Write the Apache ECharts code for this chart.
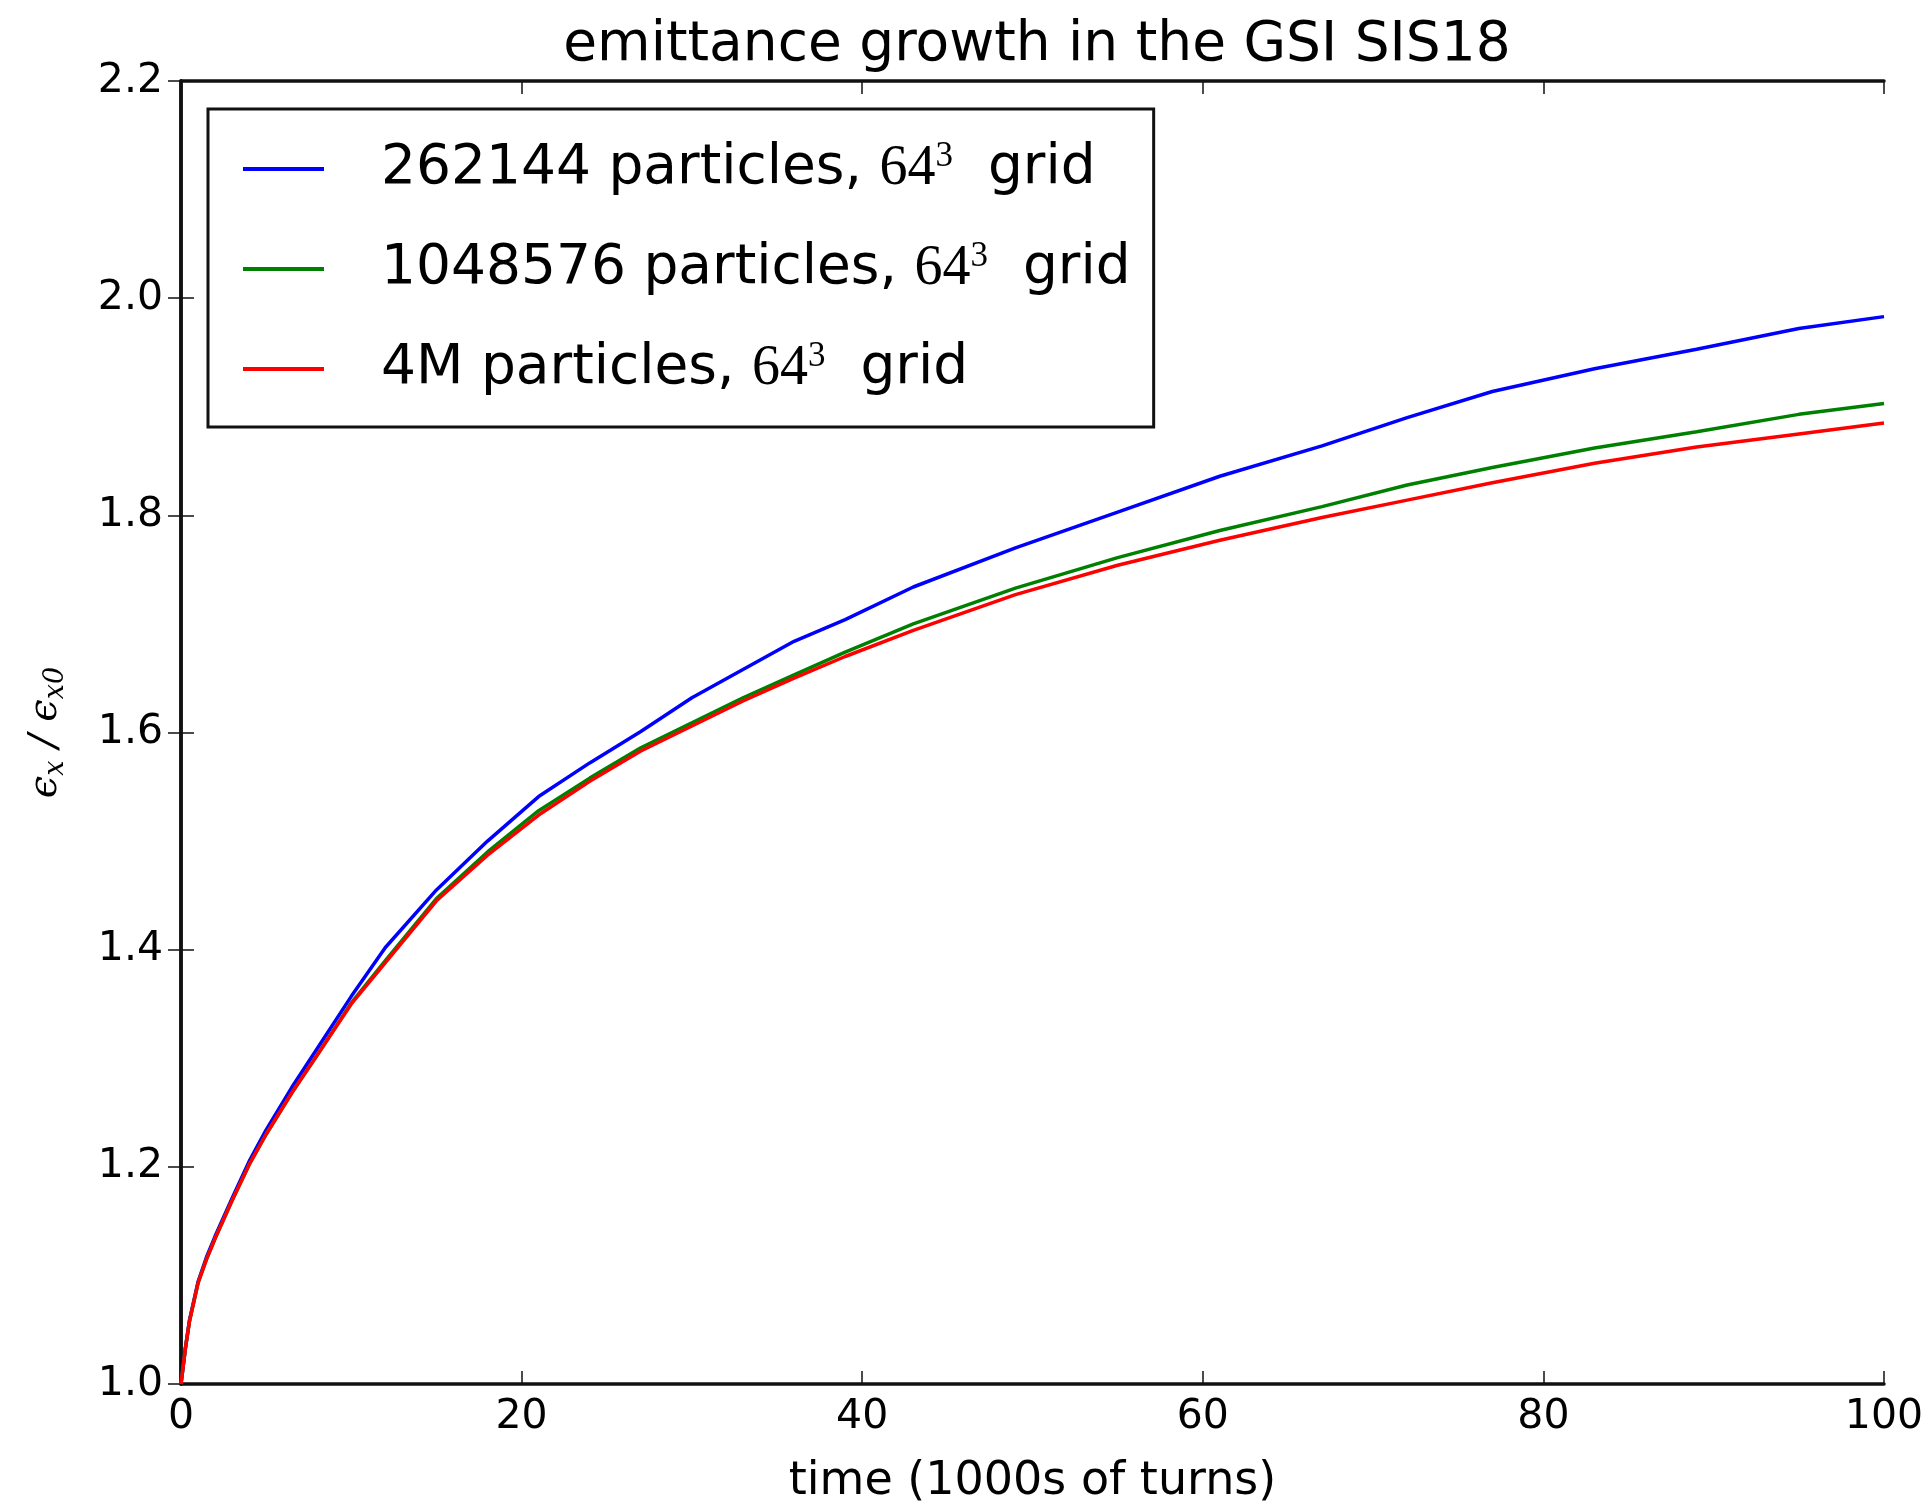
<!DOCTYPE html>
<html>
<head>
<meta charset="utf-8">
<script src="https://cdn.jsdelivr.net/npm/echarts@6/dist/echarts.min.js"></script>
<style>
  html, body { margin: 0; padding: 0; background: #fff; }
  #chart { width: 1931px; height: 1510px; }
</style>
</head>
<body>
<div id="chart"></div>
<script>
// time in 1000s of turns
const turns = [0, 0.25, 0.5, 1, 1.5, 2, 3, 4, 5, 6.5, 8, 10, 12, 15, 18, 21, 24, 27, 30, 33, 36, 39, 43, 49, 55, 61, 67, 72, 77, 83, 89, 95, 100];

const blueVals = [1.000, 1.032, 1.059, 1.094, 1.117, 1.136, 1.171, 1.205, 1.234, 1.273, 1.309, 1.357, 1.402, 1.455, 1.500, 1.541, 1.572, 1.601, 1.632, 1.658, 1.684, 1.704, 1.734, 1.770, 1.803, 1.836, 1.864, 1.890, 1.914, 1.935, 1.953, 1.972, 1.983];
const greenVals = [1.000, 1.032, 1.058, 1.093, 1.115, 1.134, 1.169, 1.202, 1.230, 1.268, 1.303, 1.351, 1.390, 1.447, 1.490, 1.528, 1.558, 1.586, 1.609, 1.632, 1.653, 1.674, 1.700, 1.733, 1.761, 1.786, 1.808, 1.828, 1.844, 1.862, 1.877, 1.893, 1.903];
const redVals = [1.000, 1.032, 1.058, 1.093, 1.115, 1.134, 1.169, 1.202, 1.230, 1.268, 1.303, 1.350, 1.388, 1.445, 1.487, 1.524, 1.555, 1.583, 1.606, 1.629, 1.650, 1.670, 1.694, 1.727, 1.754, 1.777, 1.798, 1.814, 1.830, 1.848, 1.863, 1.875, 1.885];

const seriesNames = ["262144 particles", "1048576 particles", "4M particles"];
const seriesColors = ["#0000ff", "#008000", "#ff0000"];

const chart = echarts.init(document.getElementById("chart"));

function pairs(vals) {
  return turns.map((t, i) => [t, vals[i]]);
}

const axisLine = { show: true, lineStyle: { color: "#111", width: 3.5 } };
const axisTick = { show: true, inside: true, length: 13, lineStyle: { color: "#111", width: 1.5 } };
const font = "DejaVu Sans";

const option = {
  animation: false,
  backgroundColor: "#fff",
  title: {
    text: "emittance growth in the GSI SIS18",
    left: 1032,
    textAlign: "center",
    top: 13,
    textStyle: { fontFamily: font, fontSize: 55, fontWeight: "normal", color: "#000" },
  },
  legend: {
    orient: "vertical",
    left: 208,
    top: 109,
    padding: [30, 23, 28, 35],
    borderColor: "#111",
    borderWidth: 3,
    backgroundColor: "#fff",
    icon: "rect",
    itemWidth: 81,
    itemHeight: 4,
    itemGap: 40,
    data: seriesNames,
    formatter: (name) => name + ", {m|64}{sup|3}  grid",
    textStyle: {
      fontFamily: font,
      fontSize: 55,
      color: "#000",
      lineHeight: 60,
      padding: [0, 0, 0, 52],
      rich: {
        m: { fontFamily: "Liberation Serif", fontSize: 56, color: "#000", lineHeight: 60 },
        sup: { fontFamily: "Liberation Serif", fontSize: 35, color: "#000", lineHeight: 14, verticalAlign: "top" },
      },
    },
  },
  grid: { left: 181, right: 47, top: 81, bottom: 109 },
  xAxis: [
    {
      type: "value",
      min: 0,
      max: 100,
      interval: 20,
      position: "bottom",
      axisLine,
      axisTick,
      splitLine: { show: false },
      axisLabel: { fontFamily: font, fontSize: 41, color: "#000", margin: 13 },
      name: "time (1000s of turns)",
      nameLocation: "middle",
      nameGap: 75,
      nameTextStyle: { fontFamily: font, fontSize: 46, color: "#000" },
    },
    {
      type: "value",
      min: 0,
      max: 100,
      interval: 20,
      position: "top",
      axisLine,
      axisTick,
      splitLine: { show: false },
      axisLabel: { show: false },
    },
  ],
  yAxis: [
    {
      type: "value",
      min: 1.0,
      max: 2.2,
      interval: 0.2,
      position: "left",
      axisLine,
      axisTick,
      splitLine: { show: false },
      axisLabel: {
        fontFamily: font,
        fontSize: 41,
        color: "#000",
        margin: 18,
        formatter: (v) => v.toFixed(1),
      },
      name: "{e|ϵ}{s|x}{e| / ϵ}{s|x0}",
      nameLocation: "middle",
      nameRotate: 90,
      nameGap: 112,
      nameTextStyle: {
        rich: {
          e: { fontFamily: "DejaVu Serif", fontStyle: "italic", fontSize: 40, color: "#000", lineHeight: 46 },
          s: { fontFamily: "DejaVu Serif", fontStyle: "italic", fontSize: 27, color: "#000", lineHeight: 14, verticalAlign: "bottom" },
        },
      },
    },
    {
      type: "value",
      min: 1.0,
      max: 2.2,
      interval: 0.2,
      position: "right",
      axisLine,
      axisTick,
      splitLine: { show: false },
      axisLabel: { show: false },
    },
  ],
  series: [blueVals, greenVals, redVals].map((vals, i) => ({
    name: seriesNames[i],
    type: "line",
    xAxisIndex: 0,
    yAxisIndex: 0,
    data: pairs(vals),
    showSymbol: false,
    smooth: false,
    lineStyle: { width: 3.5, color: seriesColors[i] },
    itemStyle: { color: seriesColors[i] },
  })),
};

chart.setOption(option);
</script>
</body>
</html>
